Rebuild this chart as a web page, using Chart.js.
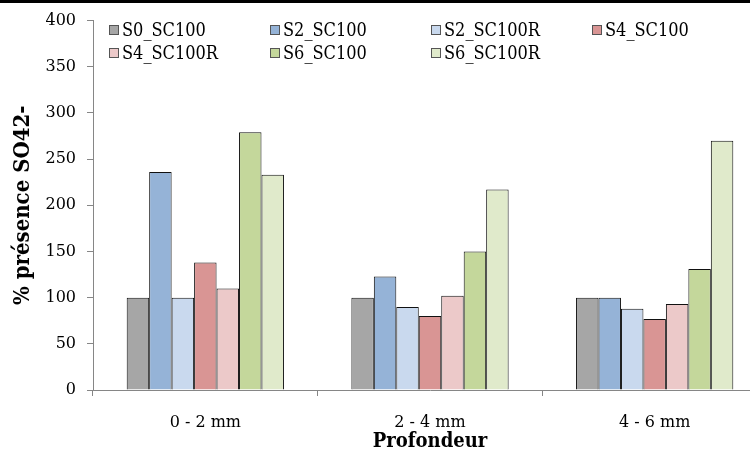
<!DOCTYPE html>
<html>
<head>
<meta charset="utf-8">
<script src="https://cdn.jsdelivr.net/npm/chart.js@4.4.1/dist/chart.umd.min.js"></script>
<style>
  html, body { margin: 0; padding: 0; overflow: hidden; background: #fff; }
  #wrap { position: relative; width: 780px; height: 451px; }
  #topline { position: absolute; left: 0; top: 0; width: 750px; height: 3px; background: #000; }
</style>
</head>
<body>
<div id="wrap">
  <canvas id="c" width="780" height="451"></canvas>
  <div id="topline"></div>
</div>
<script>
// data
const categories = ['0 - 2 mm', '2 - 4 mm', '4 - 6 mm'];
const seriesNames = ['S0_SC100', 'S2_SC100', 'S2_SC100R', 'S4_SC100', 'S4_SC100R', 'S6_SC100', 'S6_SC100R'];
const s0_sc100   = [100, 100, 100];
const s2_sc100   = [236, 123, 100];
const s2_sc100r  = [100, 90, 88];
const s4_sc100   = [138, 80, 77];
const s4_sc100r  = [110, 102, 93];
const s6_sc100   = [279, 150, 131];
const s6_sc100r  = [233, 217, 270];
const yTicks = [0, 50, 100, 150, 200, 250, 300, 350, 400];

const seriesValues = [s0_sc100, s2_sc100, s2_sc100r, s4_sc100, s4_sc100r, s6_sc100, s6_sc100r];
const fills = ['#a6a6a6', '#95b3d7', '#c9d9ee', '#d99594', '#ecc9c9', '#c4d79b', '#e0eacb'];

const serif = '"DejaVu Serif", serif';
const serifCond = '"DejaVu Serif Condensed", "DejaVu Serif", serif';

// Excel-style legend sitting inside the plot area, 4 columns
const insideLegend = {
  id: 'insideLegend',
  afterDraw(chart) {
    const ctx = chart.ctx;
    const x0 = 109, dx = 161, y0 = 30, dy = 23, box = 10;
    ctx.save();
    ctx.font = '18px ' + serifCond;
    ctx.textBaseline = 'middle';
    ctx.textAlign = 'left';
    chart.data.datasets.forEach(function(ds, i) {
      const col = i % 4, row = Math.floor(i / 4);
      const x = x0 + col * dx, y = y0 + row * dy;
      ctx.fillStyle = ds.backgroundColor;
      ctx.fillRect(x, y - box / 2, box, box);
      ctx.strokeStyle = '#555';
      ctx.lineWidth = 1;
      ctx.strokeRect(x + 0.5, y - box / 2 + 0.5, box - 1, box - 1);
      ctx.fillStyle = '#000';
      ctx.fillText(ds.label, x + 13, y + 1);
    });
    ctx.restore();
  }
};

const datasets = seriesNames.map(function(name, i) {
  return {
    label: name,
    data: seriesValues[i],
    backgroundColor: fills[i],
    borderColor: '#111',
    borderWidth: 1,
    categoryPercentage: 0.7,
    barPercentage: 1.0
  };
});

new Chart(document.getElementById('c'), {
  type: 'bar',
  data: { labels: categories, datasets: datasets },
  options: {
    responsive: false,
    animation: false,
    devicePixelRatio: 1,
    layout: { padding: { top: 18, right: 13, left: 0, bottom: 0 } },
    plugins: {
      legend: { display: false },
      tooltip: { enabled: false }
    },
    scales: {
      x: {
        grid: { display: true, drawOnChartArea: false, offset: true, tickLength: 6, color: '#868686' },
        border: { color: '#868686', width: 1 },
        ticks: { color: '#000', font: { family: serif, size: 16 }, padding: 17 },
        title: { display: true, text: 'Profondeur', color: '#000', font: { family: serifCond, size: 20, weight: 'bold' }, padding: { top: 0, bottom: -3 } },
        afterFit: function(s) { s.height = 61; }
      },
      y: {
        min: 0,
        max: 400,
        afterBuildTicks: function(s) { s.ticks = yTicks.map(function(v) { return { value: v }; }); },
        grid: { display: true, drawOnChartArea: false, tickLength: 6, color: '#868686' },
        border: { color: '#868686', width: 1 },
        ticks: { color: '#000', font: { family: serif, size: 16 }, padding: 11 },
        title: { display: true, text: '% présence SO42-', color: '#000', font: { family: serifCond, size: 22, weight: 'bold' }, padding: { top: 10, bottom: 0 } },
        afterFit: function(s) { s.width = 93; }
      }
    }
  },
  plugins: [insideLegend]
});
</script>
</body>
</html>
